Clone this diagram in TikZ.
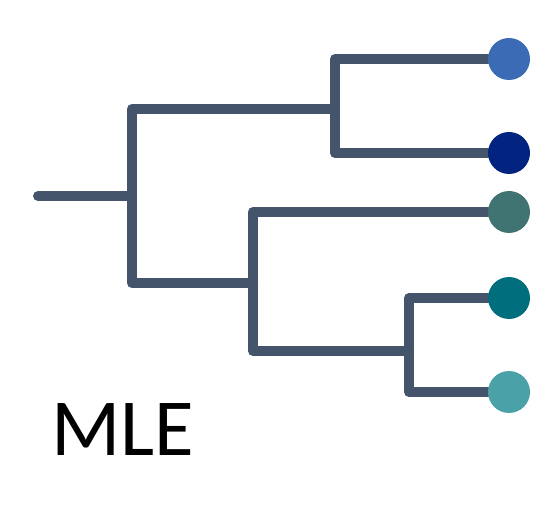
\documentclass[tikz,border=0pt]{standalone}
\usepackage{fontspec}
\setmainfont{Carlito}
\usetikzlibrary{backgrounds}

\definecolor{linegray}{HTML}{44546A}
\definecolor{leafA}{HTML}{3A6BB4}
\definecolor{leafB}{HTML}{02237F}
\definecolor{leafC}{HTML}{3F7472}
\definecolor{leafD}{HTML}{016E7E}
\definecolor{leafE}{HTML}{4AA2A8}

\begin{document}
\begin{tikzpicture}[
    x = 1pt, y = -1pt,
    branch/.style = {draw = linegray, line width = 10pt, line cap = round, line join = round},
    leaf/.style = {circle, inner sep = 0pt, minimum size = 42pt},
  ]
  \useasboundingbox (0,0) rectangle (554,526);

  \foreach \i/\y/\c in {1/59/leafA, 2/153/leafB, 3/212/leafC, 4/298/leafD, 5/392/leafE} {
    \node [leaf, fill = \c] (leaf \i) at (509,\y) {};
  }
  \coordinate (stem) at (38,196);
  \coordinate (fork 0) at (132,196);
  \coordinate (fork 1) at (335,109);
  \coordinate (fork 2) at (253,283);
  \coordinate (fork 3) at (409,351);

  \begin{scope}[on background layer]
    \draw [branch] (stem) -- (fork 0);
    \draw [branch] (fork 0) |- (fork 1);
    \draw [branch] (fork 0) |- (fork 2);
    \draw [branch] (fork 1) |- (leaf 1);
    \draw [branch] (fork 1) |- (leaf 2);
    \draw [branch] (fork 2) |- (leaf 3);
    \draw [branch] (fork 2) |- (fork 3);
    \draw [branch] (fork 3) |- (leaf 4);
    \draw [branch] (fork 3) |- (leaf 5);
  \end{scope}

  \node [anchor = base west, inner sep = 0pt, font = \fontsize{81}{84}\selectfont]
        (method) at (51,455) {MLE};
\end{tikzpicture}
\end{document}
